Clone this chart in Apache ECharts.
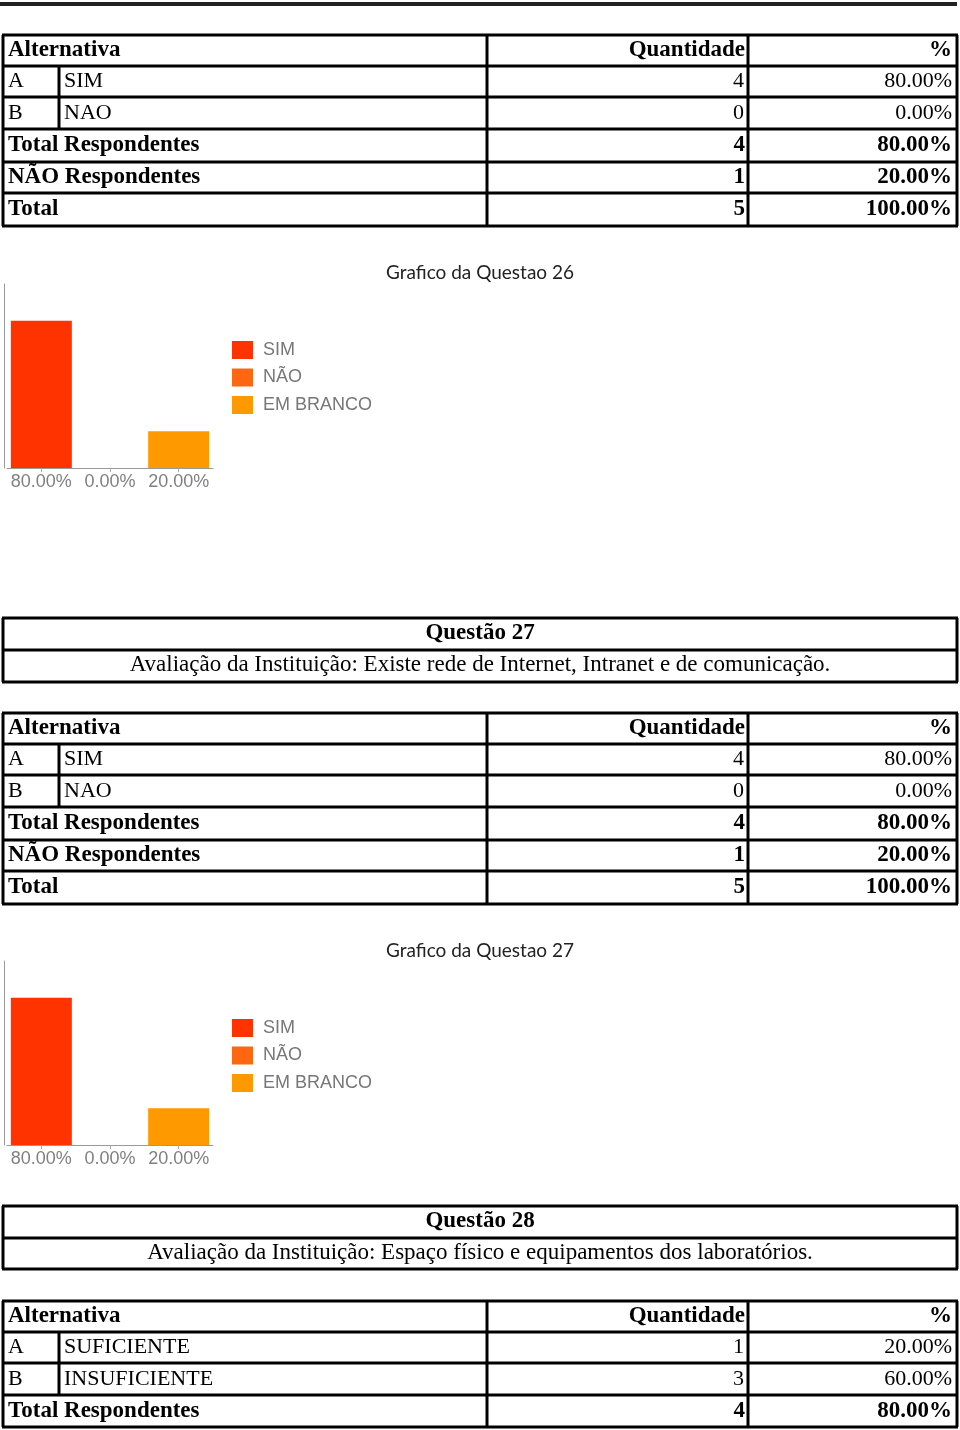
<!DOCTYPE html>
<html><head><meta charset="utf-8">
<script src="https://cdn.jsdelivr.net/npm/echarts@6/dist/echarts.min.js"></script>
<style>html,body{margin:0;padding:0;background:#fff}#c{width:960px;height:1430px}</style>
</head><body><div id="c"></div>
<script>
// ---------- DATA ----------
const tableHeader = ['Alternativa', 'Quantidade', '%'];
const totalLabels = ['Total Respondentes', 'NÃO Respondentes', 'Total'];

const q26Letters = ['A', 'B'];
const q26Options = ['SIM', 'NAO'];
const q26Counts = [4, 0];
const q26Percents = ['80.00%', '0.00%'];
const q26TotalCounts = [4, 1, 5];
const q26TotalPercents = ['80.00%', '20.00%', '100.00%'];

const q27Title = 'Questão 27';
const q27Text = 'Avaliação da Instituição: Existe rede de Internet, Intranet e de comunicação.';
const q27Letters = ['A', 'B'];
const q27Options = ['SIM', 'NAO'];
const q27Counts = [4, 0];
const q27Percents = ['80.00%', '0.00%'];
const q27TotalCounts = [4, 1, 5];
const q27TotalPercents = ['80.00%', '20.00%', '100.00%'];

const q28Title = 'Questão 28';
const q28Text = 'Avaliação da Instituição: Espaço físico e equipamentos dos laboratórios.';
const q28Letters = ['A', 'B'];
const q28Options = ['SUFICIENTE', 'INSUFICIENTE'];
const q28Counts = [1, 3];
const q28Percents = ['20.00%', '60.00%'];
const q28TotalCounts = [4];
const q28TotalPercents = ['80.00%'];

const chartTitles = ['Grafico da Questao 26', 'Grafico da Questao 27'];
const chartCategories = ['80.00%', '0.00%', '20.00%'];
const legendNames = ['SIM', 'NÃO', 'EM BRANCO'];
const q26ChartValues = [80, 0, 20];
const q27ChartValues = [80, 0, 20];

// ---------- STYLE / LAYOUT ----------
const legendColors = ['#ff3300', '#ff6611', '#ff9900'];
const SERIF = '"Liberation Serif", "Times New Roman", serif';
const X = { left: 3, split: 59, q: 487, p: 748, right: 957 };
const els = [];

function hline(y, x1, x2, w, c) {
  els.push({ type: 'line', silent: true, shape: { x1: x1, y1: y, x2: x2, y2: y },
    style: { stroke: c || '#000', lineWidth: w || 3 } });
}
function vline(x, y1, y2, w) {
  els.push({ type: 'line', silent: true, shape: { x1: x, y1: y1, x2: x, y2: y2 },
    style: { stroke: '#000', lineWidth: w || 3 } });
}
function txt(s, x, y, align, bold, size) {
  els.push({ type: 'text', silent: true, x: x, y: y,
    style: { text: String(s), align: align, textAlign: align, verticalAlign: 'middle',
      textVerticalAlign: 'middle',
      font: (bold ? 'bold ' : '') + (size || (bold ? 23 : 22)) + 'px ' + SERIF, fill: '#000' } });
}
function buildTable(ys, letters, options, counts, percents, totCounts, totPercents) {
  ys.forEach(function (y) { hline(y, X.left - 1, X.right + 1); });
  const top = ys[0], bot = ys[ys.length - 1];
  [X.left, X.q, X.p, X.right].forEach(function (x) { vline(x, top, bot); });
  vline(X.split, ys[1], ys[1 + letters.length]);
  const mid = function (i) { return (ys[i] + ys[i + 1]) / 2; };
  txt(tableHeader[0], 8, mid(0), 'left', true);
  txt(tableHeader[1], 745, mid(0), 'right', true);
  txt(tableHeader[2], 952, mid(0), 'right', true);
  letters.forEach(function (l, i) {
    txt(l, 8, mid(1 + i), 'left', false);
    txt(options[i], 64, mid(1 + i), 'left', false);
    txt(counts[i], 744, mid(1 + i), 'right', false);
    txt(percents[i], 952, mid(1 + i), 'right', false);
  });
  totCounts.forEach(function (c, i) {
    const r = 1 + letters.length + i;
    txt(totalLabels[i], 8, mid(r), 'left', true);
    txt(c, 745, mid(r), 'right', true);
    txt(totPercents[i], 952, mid(r), 'right', true);
  });
}
function buildQuestionBox(ys, title, text) {
  ys.forEach(function (y) { hline(y, X.left - 1, X.right + 1); });
  vline(X.left, ys[0], ys[2]); vline(X.right, ys[0], ys[2]);
  txt(title, 480, (ys[0] + ys[1]) / 2 - 1, 'center', true);
  txt(text, 480, (ys[1] + ys[2]) / 2 - 1, 'center', false, 23);
}

hline(4, 0, 957, 4, '#222');
buildTable([35, 66, 97, 129, 162, 193, 226], q26Letters, q26Options, q26Counts, q26Percents, q26TotalCounts, q26TotalPercents);
buildQuestionBox([618, 650, 682], q27Title, q27Text);
buildTable([713, 744, 775, 807, 840, 871, 904], q27Letters, q27Options, q27Counts, q27Percents, q27TotalCounts, q27TotalPercents);
buildQuestionBox([1206, 1238, 1269], q28Title, q28Text);
buildTable([1301, 1332, 1363, 1395, 1427], q28Letters, q28Options, q28Counts, q28Percents, q28TotalCounts, q28TotalPercents);

// ---------- CHARTS ----------
const chartValues = [q26ChartValues, q27ChartValues];
const chartTops = [284, 961];
const titleTops = [263, 941];
const legendTops = [341, 1019];

const option = {
  animation: false,
  backgroundColor: '#fff',
  title: chartTitles.map(function (t, k) {
    return { text: t, left: 'center', top: titleTops[k], padding: 0,
      textStyle: { fontFamily: 'Lato', fontSize: 19, fontWeight: 'normal', color: '#222' } };
  }),
  legend: chartTitles.map(function (t, k) {
    return { data: legendNames, orient: 'vertical', left: 232, top: legendTops[k], padding: 0,
      icon: 'rect', itemWidth: 21, itemHeight: 18, itemGap: 9.5, selectedMode: false,
      textStyle: { fontFamily: '"Liberation Sans", Arial, sans-serif', fontSize: 18, color: '#777',
        padding: [0, 0, 0, 5] } };
  }),
  grid: chartTops.map(function (t) { return { left: 7, top: t, width: 206, height: 184 }; }),
  xAxis: chartTops.map(function (t, k) {
    return { type: 'category', gridIndex: k, data: chartCategories,
      axisLine: { lineStyle: { color: '#999', width: 1 } },
      axisTick: { show: true, alignWithLabel: true, length: 4, lineStyle: { color: '#aaa' } },
      axisLabel: { color: '#808080', fontSize: 18, fontFamily: '"Liberation Sans", Arial, sans-serif', margin: 5, interval: 0 } };
  }),
  yAxis: chartTops.map(function (t, k) {
    return { type: 'value', gridIndex: k, min: 0, max: 100, interval: 20, offset: 3,
      axisLine: { show: true, lineStyle: { color: '#999', width: 1 } },
      axisTick: { show: false }, axisLabel: { show: false }, splitLine: { show: false } };
  }),
  series: [],
  graphic: { elements: els }
};
chartValues.forEach(function (vals, k) {
  legendNames.forEach(function (name, j) {
    option.series.push({
      type: 'bar', name: name, xAxisIndex: k, yAxisIndex: k, stack: 'c' + k,
      barWidth: 61, itemStyle: { color: legendColors[j] },
      data: vals.map(function (v, i) { return i === j ? v : '-'; })
    });
  });
});

const chart = echarts.init(document.getElementById('c'), null, { renderer: 'canvas' });
chart.setOption(option);
</script>
</body></html>
